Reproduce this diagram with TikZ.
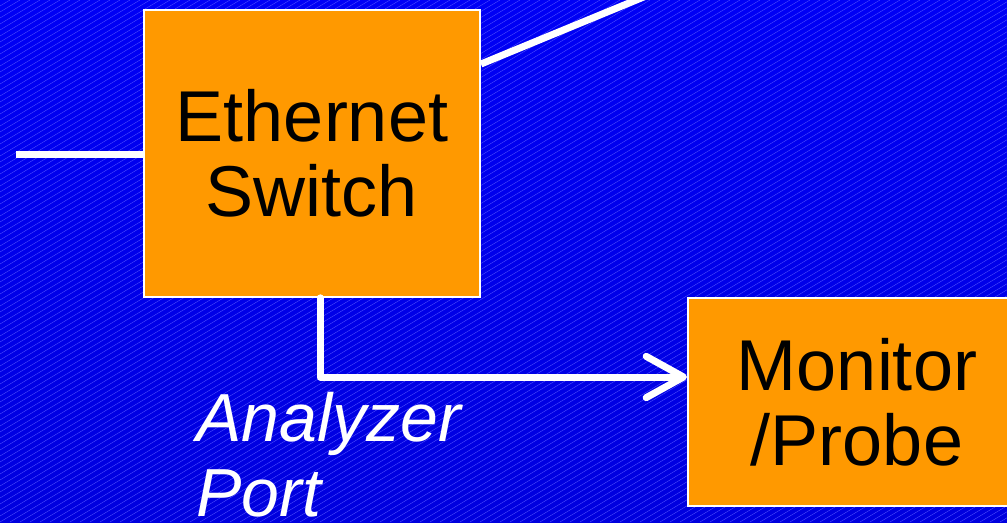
\documentclass[tikz,border=0pt]{standalone}
\usepackage{fontspec}
\usepackage{xcolor}
\usepackage{tikz}
\usetikzlibrary{arrows.meta}
\setmainfont{Liberation Sans}
\definecolor{slideblue}{RGB}{0,0,245}
\definecolor{slidedeep}{RGB}{0,0,222}
\definecolor{hatchblue}{RGB}{80,80,255}
\definecolor{boxorange}{RGB}{255,153,0}

\tikzset{
  unit/.style={draw=white, line width=1.5pt, fill=boxorange, align=center,
    font=\fontsize{54}{56}\selectfont},
  wire/.style={draw=white, line width=5.25pt},
  hatch/.style={draw=hatchblue, line width=0.3pt}
}

\begin{document}
\begin{tikzpicture}[x=0.75pt,y=-0.75pt]
			\clip (0,0) rectangle (1007,522);
			\shade[top color=slideblue, bottom color=slidedeep] (0,0) rectangle (1007,522);
			\foreach \i in {-90,...,101}
				\draw[hatch] (\i*10,522) -- ++(870,-522);
			\node[unit, minimum width=252pt, minimum height=215pt] (switch) at (312,153.5) {Ethernet\\Switch};
			\node[unit, minimum width=253.5pt, minimum height=156pt] (monitor) at (857,402) {Monitor\\/Probe};
			\coordinate (lan) at (16,154);
			\coordinate (wan) at (680,-18);
			\draw[wire] (lan) -- (lan -| switch.west);
			\draw[wire] (wan) -- (switch.east |- 0,64);
			\draw[wire, line cap=round, line join=round, -{Straight Barb[length=28pt,width=31pt,round]}] (320,0 |- switch.south) |- (monitor.west |- 0,377);
			\node[text=white, align=left, anchor=north west, inner sep=0pt,
				font=\fontsize{51}{56}\itshape] (port) at (196,392) {Analyzer\\Port};
		\end{tikzpicture}
\end{document}
